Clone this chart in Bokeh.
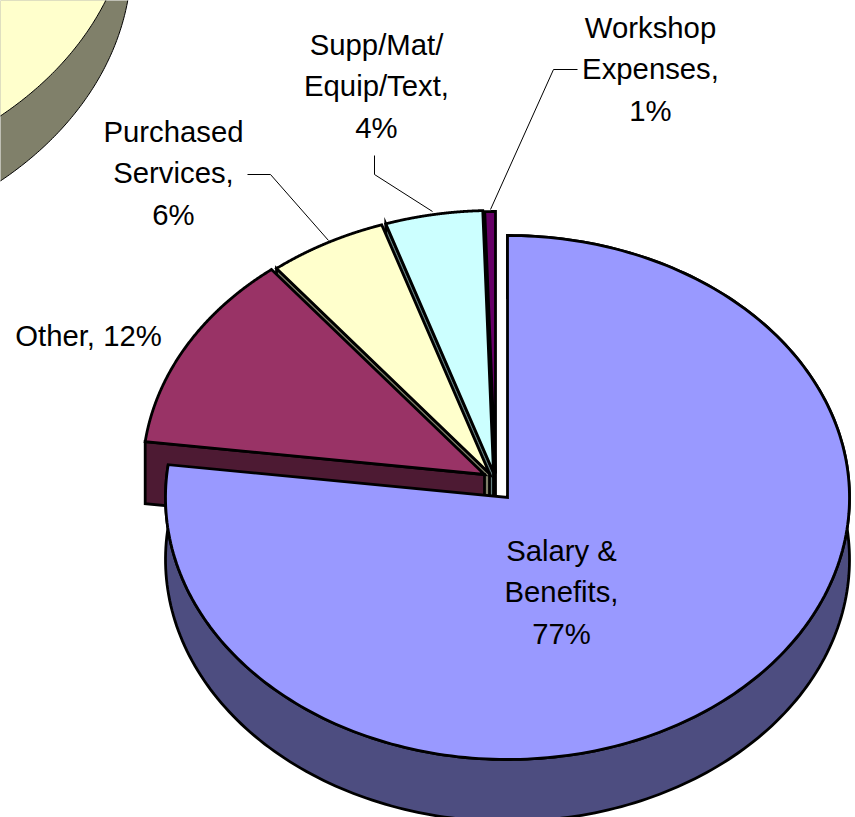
import math
from bokeh.plotting import figure
from bokeh.models import Range1d
from bokeh.core.properties import value
from bokeh.embed import file_html
from bokeh.resources import INLINE

# ---- data ----
categories = ["Salary & Benefits", "Other", "Purchased Services", "Supp/Mat/Equip/Text", "Workshop Expenses"]
shares = [77.0, 12.3, 5.6, 4.6, 0.5]
label_lines = [
    ["Salary &", "Benefits,", "77%"],
    ["Other, 12%"],
    ["Purchased", "Services,", "6%"],
    ["Supp/Mat/", "Equip/Text,", "4%"],
    ["Workshop", "Expenses,", "1%"],
]
top_colors = ["#9999FF", "#993366", "#FFFFCC", "#CCFFFF", "#660066"]
side_colors = ["#4D4D80", "#4D1A33", "#80806A", "#668080", "#330033"]

# ---- layout of the tilted pie (page pixels) ----
RX, RY, DEPTH = 342, 262, 62
apexes = [(507, 497), (484, 474), (489, 473), (493, 472), (495, 473)]
label_centers = [(561, 591), (88, 335), (173, 172), (376, 85), (650, 68)]
LINE_GAP = 41.5
leaders = [
    ([247, 270, 328], [174, 174, 240]),
    ([374, 374, 432], [155, 174, 211]),
    ([577, 553, 490], [69, 69, 209]),
]
# neighbouring pie cut off by the top-left corner
other_pie = dict(cx=-252, cy=-106, rx=383, ry=294, depth=65)

p = figure(width=855, height=817, output_backend="svg", toolbar_location=None,
           x_range=Range1d(0, 855), y_range=Range1d(817, 0),
           min_border=0, outline_line_color=None, background_fill_color="white",
           border_fill_color="white")
p.xaxis.visible = False
p.yaxis.visible = False
p.grid.visible = False


def arc(cx, cy, rx, ry, a0, a1, n=240):
    xs, ys = [], []
    for i in range(n + 1):
        t = math.radians(a0 + (a1 - a0) * i / n)
        xs.append(cx + rx * math.sin(t))
        ys.append(cy - ry * math.cos(t))
    return xs, ys


# corner pie
op = other_pie
xs, ys = arc(op["cx"], op["cy"], op["rx"], op["ry"], 0, 360, 720)
p.patch(xs, [y + op["depth"] for y in ys], fill_color=side_colors[2], line_color="black", line_width=1)
p.patch(xs, ys, fill_color=top_colors[2], line_color="black", line_width=1)

# slice angles from the shares
total = sum(shares)
bounds = [0.0]
for s in shares:
    bounds.append(bounds[-1] + 360.0 * s / total)

LW = 2.8
for i in reversed(range(len(shares))):
    ax, ay = apexes[i]
    a0, a1 = bounds[i], bounds[i + 1]
    xs, ys = arc(ax, ay, RX, RY, a0, a1)
    if i == 0:
        sx = xs + xs[::-1]
        sy = ys + [y + DEPTH for y in ys[::-1]]
    else:
        sx = [xs[0], xs[0], ax, ax]
        sy = [ys[0], ys[0] + DEPTH, ay + DEPTH, ay]
    p.patch(sx, sy, fill_color=side_colors[i], line_color="black", line_width=LW, line_join="miter")
    p.patch([ax] + xs, [ay] + ys, fill_color=top_colors[i], line_color="black", line_width=LW, line_join="miter")

for lx, ly in leaders:
    p.line(lx, ly, line_color="black", line_width=1)

for lines, (cx, cy) in zip(label_lines, label_centers):
    n = len(lines)
    p.text([cx] * n, [cy + (k - (n - 1) / 2) * LINE_GAP for k in range(n)], text=lines,
           text_font=value("Liberation Sans"), text_font_size="29.3px", text_color="black",
           text_align="center", text_baseline="middle")

open("out.html", "w").write(file_html(p, INLINE))
